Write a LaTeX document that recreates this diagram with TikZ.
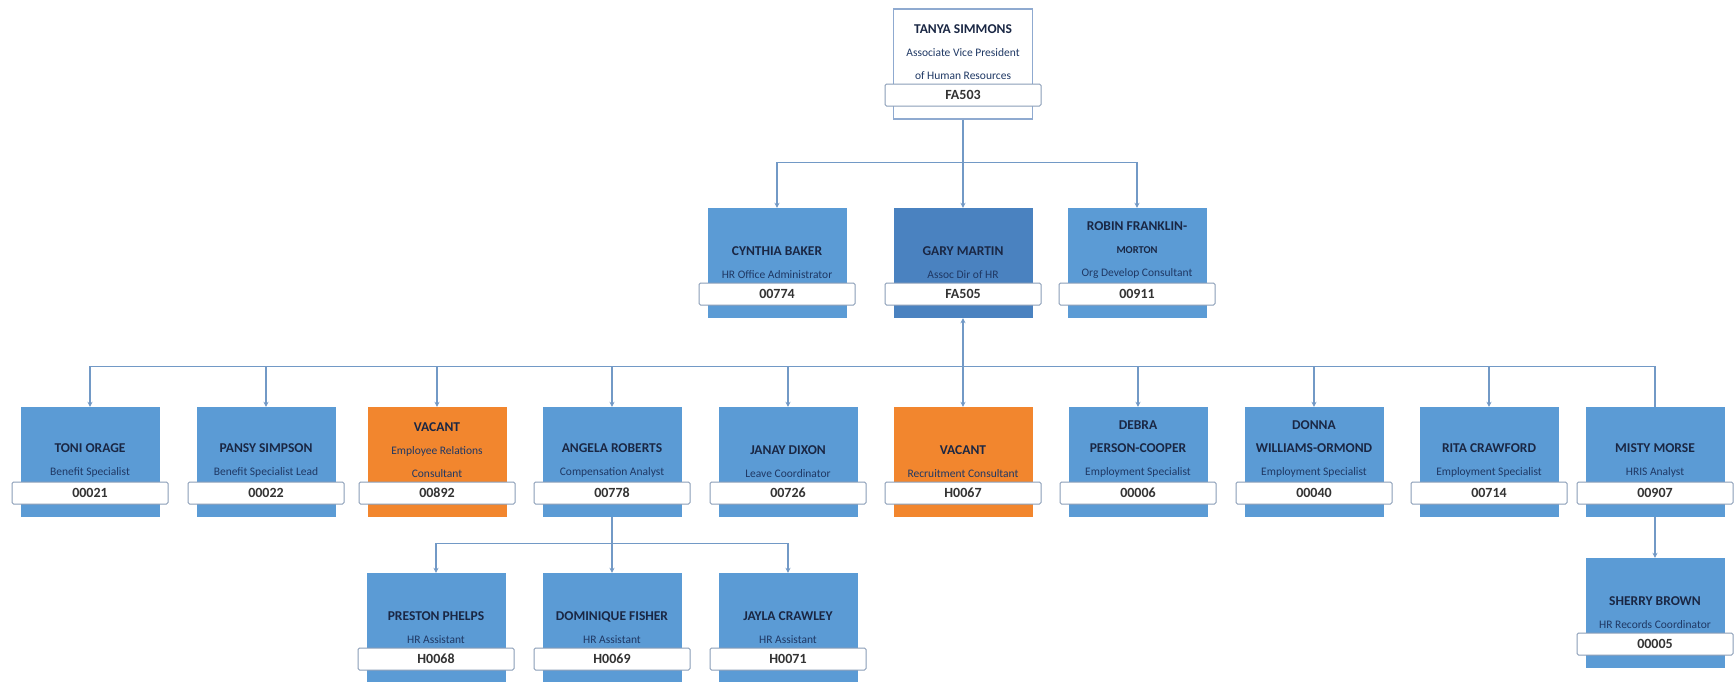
\documentclass[tikz,border=0pt]{standalone}
\usepackage{fontspec}
\setmainfont{Carlito}
\usetikzlibrary{arrows.meta}
\definecolor{boxblue}{HTML}{5B9BD5}
\definecolor{darkblue}{HTML}{4A82C0}
\definecolor{vacorange}{HTML}{F2862E}
\definecolor{linecol}{HTML}{7299C6}
\definecolor{barline}{HTML}{8A9DB8}
\definecolor{topline}{HTML}{8FAAD0}
\definecolor{namecol}{HTML}{1A2744}
\definecolor{subcol}{HTML}{1F3864}
\newcommand\nm[1]{{\bfseries\fontsize{13.5}{23}\selectfont\color{namecol}#1}}
\newcommand\ttl[1]{{\fontsize{11.5}{23}\selectfont\color{subcol}#1}}
\tikzset{
  obox/.style={rectangle, minimum width=139pt, minimum height=110pt, inner sep=0pt, draw=none},
  fillblue/.style={fill=boxblue},
  filldark/.style={fill=darkblue},
  fillorange/.style={fill=vacorange},
  topbox/.style={fill=white, draw=topline, line width=1.2pt},
  idbar/.style={rectangle, rounded corners=1.5pt, minimum width=156pt, minimum height=22pt, inner sep=0pt,
    fill=white, draw=barline, line width=1pt, font=\bfseries\fontsize{14}{16}\selectfont, text=black!80},
  otext/.style={anchor=south, align=center, inner sep=0pt, font=\fontsize{11.5}{23}\selectfont},
  conn/.style={draw=linecol, line width=1.3pt},
  tip/.style={-{Stealth[length=5pt,width=5pt]}},
  tips/.style={{Stealth[length=5pt,width=5pt]}-{Stealth[length=5pt,width=5pt]}},
}
\newcommand\orgbox[6]{%
  \node[obox,#4] (#1) at (#2,#3+55) {};
  \node[idbar] (#1id) at (#2,#3+86) {#6};
  \node[otext] (#1txt) at (#2,#3+71) {#5};
}
\begin{document}
\begin{tikzpicture}[x=1pt,y=-1pt]
\fill[white] (0,0) rectangle (1736,681);
\useasboundingbox (0,0) rectangle (1736,681);

% level 1
\orgbox{tanya}{963}{9}{topbox}{\nm{TANYA SIMMONS}\\\ttl{Associate Vice President}\\\ttl{of Human Resources}}{FA503}

% level 2
\orgbox{cynthia}{777}{208}{fillblue}{\nm{CYNTHIA BAKER}\\\ttl{HR Office Administrator}}{00774}
\orgbox{gary}{963}{208}{filldark}{\nm{GARY MARTIN}\\\ttl{Assoc Dir of HR}}{FA505}
\orgbox{robin}{1137}{208}{fillblue}{\nm{ROBIN FRANKLIN-}\\{\bfseries\fontsize{10.5}{23}\selectfont\color{namecol}MORTON}\\\ttl{Org Develop Consultant}}{00911}

% level 3
\orgbox{toni}{90}{407}{fillblue}{\nm{TONI ORAGE}\\\ttl{Benefit Specialist}}{00021}
\orgbox{pansy}{266}{407}{fillblue}{\nm{PANSY SIMPSON}\\\ttl{Benefit Specialist Lead}}{00022}
\orgbox{vaca}{437}{407}{fillorange}{\nm{VACANT}\\\ttl{Employee Relations}\\\ttl{Consultant}}{00892}
\orgbox{angela}{612}{407}{fillblue}{\nm{ANGELA ROBERTS}\\\ttl{Compensation Analyst}}{00778}
\orgbox{janay}{788}{407}{fillblue}{\nm{JANAY DIXON}\\\ttl{Leave Coordinator}}{00726}
\orgbox{vacb}{963}{407}{fillorange}{\nm{VACANT}\\\ttl{Recruitment Consultant}}{H0067}
\orgbox{debra}{1138}{407}{fillblue}{\nm{DEBRA}\\\nm{PERSON-COOPER}\\\ttl{Employment Specialist}}{00006}
\orgbox{donna}{1314}{407}{fillblue}{\nm{DONNA}\\\nm{WILLIAMS-ORMOND}\\\ttl{Employment Specialist}}{00040}
\orgbox{rita}{1489}{407}{fillblue}{\nm{RITA CRAWFORD}\\\ttl{Employment Specialist}}{00714}
\orgbox{misty}{1655}{407}{fillblue}{\nm{MISTY MORSE}\\\ttl{HRIS Analyst}}{00907}

% level 4
\orgbox{preston}{436}{573}{fillblue}{\nm{PRESTON PHELPS}\\\ttl{HR Assistant}}{H0068}
\orgbox{dominique}{612}{573}{fillblue}{\nm{DOMINIQUE FISHER}\\\ttl{HR Assistant}}{H0069}
\orgbox{jayla}{788}{573}{fillblue}{\nm{JAYLA CRAWLEY}\\\ttl{HR Assistant}}{H0071}
\orgbox{sherry}{1655}{558}{fillblue}{\nm{SHERRY BROWN}\\\ttl{HR Records Coordinator}}{00005}

% connectors level 1 -> 2
\draw[conn] (tanya.south) -- ++(0,43) coordinate (bus1);
\draw[conn,tip] (bus1) -| (cynthia.north);
\draw[conn,tip] (bus1) -| (robin.north);
\draw[conn,tip] (bus1) -- (gary.north);

% connectors level 2 -> 3
\path (gary.south) ++(0,48) coordinate (bus2);
\draw[conn,tips] (gary.south) -- (vacb.north);
\foreach \n in {toni,pansy,vaca,angela,janay,debra,donna,rita}
  \draw[conn,tip] (bus2) -| (\n.north);
\draw[conn] (bus2) -| (misty.north);

% connectors level 3 -> 4
\draw[conn] (angela.south) -- ++(0,26) coordinate (bus3);
\foreach \n in {preston,dominique,jayla}
  \draw[conn,tip] (bus3) -| (\n.north);
\draw[conn,tip] (misty.south) -- (sherry.north);
\end{tikzpicture}
\end{document}
